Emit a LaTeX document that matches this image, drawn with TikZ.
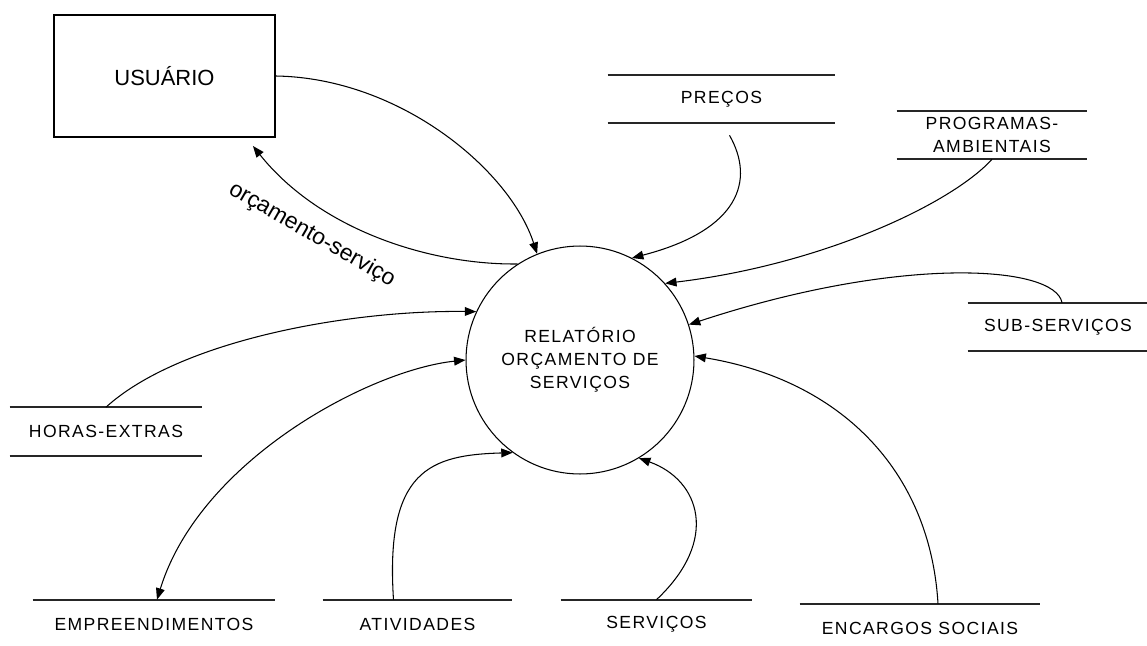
\documentclass[tikz,border=0pt]{standalone}
\usepackage{fontspec}
\setmainfont{Liberation Sans}
\newfontfamily\dfdfont[LetterSpace=8]{Liberation Sans}
\usetikzlibrary{arrows.meta,positioning}

\begin{document}
\begin{tikzpicture}[x=0.02cm,y=-0.02cm,
  flow/.style={line width=0.6pt,-{Triangle[length=6.5pt,width=5pt]}},
  store/.style={font=\dfdfont\fontsize{10}{13}\selectfont,inner sep=0pt,minimum height=0.96cm,align=center},
  bar/.style={line width=1.1pt,black!85}]
\useasboundingbox (0,0) rectangle (1147,646);
%external entity
\node[draw,line width=1.1pt,minimum width=4.42cm,minimum height=2.44cm,font=\fontsize{12.5}{15}\selectfont] (usuario) at (164.5,76) {USUÁRIO};
%process
\node[draw,circle,line width=0.6pt,minimum size=4.56cm,inner sep=0pt,align=center,font=\dfdfont\fontsize{10}{13}\selectfont] (rel) at (580,360) {RELATÓRIO\\ORÇAMENTO DE\\SERVIÇOS};
%stores with two lines
\node[store,minimum width=4.54cm] (precos) at (721.5,99) {PREÇOS};
\node[store,minimum width=3.8cm] (programas) at (992,135) {PROGRAMAS-\\AMBIENTAIS};
\node[store,minimum width=3.6cm] (subserv) at (1058,327) {SUB-SERVIÇOS};
\node[store,minimum width=3.84cm] (horas) at (106,431.5) {HORAS-EXTRAS};
%stores with one line
\node[store,minimum width=4.84cm] (empreend) at (154,624) {EMPREENDIMENTOS};
\node[store,minimum width=3.78cm] (atividades) at (417.5,624) {ATIVIDADES};
\node[store,minimum width=3.82cm] (servicos) at (656.5,624) {SERVIÇOS};
\node[store,minimum width=4.8cm] (encargos) at (920,628) {ENCARGOS SOCIAIS};
\foreach \n in {precos,programas,subserv,horas}
  \draw[bar] (\n.north west) -- (\n.north east) (\n.south west) -- (\n.south east);
\foreach \n in {empreend,atividades,servicos,encargos}
  \draw[bar] (\n.north west) -- (\n.north east);
%flows
\draw[flow] (usuario.east) .. controls (400,78) and (510,170) .. (rel.112);
\draw[flow] (rel.123) .. controls (430,265) and (320,230) .. ([shift={(-23,8)}]usuario.south east);
\node[rotate=-30,font=\fontsize{13}{15}\selectfont] (orcserv) at (312,235) {orçamento-serviço};
\draw[flow] ([shift={(8,12)}]precos.south) .. controls (755,180) and (740,230) .. (rel.63);
\draw[flow] (programas.south) .. controls (950,205) and (820,265) .. (rel.42);
\draw[flow] ([shift={(4,0)}]subserv.north) .. controls (1055,265) and (900,255) .. (rel.18);
\draw[flow] ([shift={(18,0)}]encargos.north) .. controls (930,470) and (840,380) .. (rel.2);
\draw[flow] (servicos.north) .. controls (720,540) and (700,480) .. (rel.-59);
\draw[flow] ([shift={(-24,0)}]atividades.north) .. controls (385,470) and (430,455) .. (rel.234);
\draw[flow,{Triangle[length=6.5pt,width=5pt]}-{Triangle[length=6.5pt,width=5pt]}] (rel.180) .. controls (370,370) and (200,460) .. ([shift={(3,0)}]empreend.north);
\draw[flow] (horas.north) .. controls (180,340) and (350,310) .. (rel.155);
\end{tikzpicture}
\end{document}
